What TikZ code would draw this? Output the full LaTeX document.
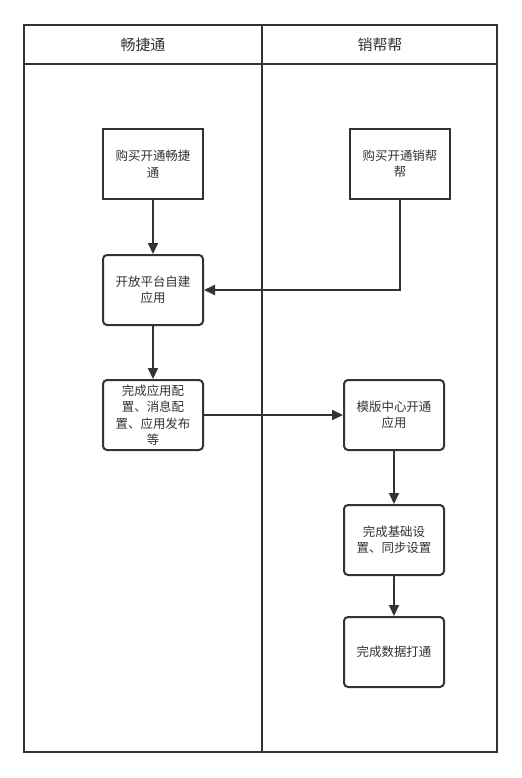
\documentclass[tikz,border=0pt]{standalone}
\usepackage{fontspec}
\setmainfont{Noto Sans CJK SC}
\usepackage{tikz}
\usetikzlibrary{arrows.meta}
\definecolor{ink}{HTML}{333333}

\tikzset{
  task/.style={draw=ink,line width=2bp,minimum width=100bp,minimum height=70bp,inner sep=2bp,align=center,fill=white},
  roundtask/.style={task,rounded corners=4bp},
  flow/.style={draw=ink,line width=2bp,-{Triangle[length=11bp,width=10bp]}}
}

\begin{document}
\begin{tikzpicture}[font=\fontsize{12.5}{16.5}\selectfont,text=ink]
\useasboundingbox (0bp,0bp) rectangle (522bp,-778bp);
% swimlanes
\draw [draw=ink,line width=2bp] (24bp,-25bp) rectangle (497bp,-752bp);
\draw [draw=ink,line width=2bp] (24bp,-64bp) -- (497bp,-64bp);
\draw [draw=ink,line width=2.5bp] (262bp,-25bp) -- (262bp,-752bp);
\node (laneCJT) at (143bp,-45bp)[font=\fontsize{15}{18}\selectfont] {畅捷通};
\node (laneXBB) at (380bp,-45bp)[font=\fontsize{15}{18}\selectfont] {销帮帮};
% steps
\node (buyCJT) at (153bp,-164bp)[task] {购买开通畅捷\\通};
\node (buyXBB) at (400bp,-164bp)[task] {购买开通销帮\\帮};
\node (openApp) at (153bp,-290bp)[roundtask] {开放平台自建\\应用};
\node (config) at (153bp,-415bp)[roundtask] {完成应用配\\置、消息配\\置、应用发布\\等};
\node (tplOpen) at (394bp,-415bp)[roundtask] {模版中心开通\\应用};
\node (baseSet) at (394bp,-540bp)[roundtask] {完成基础设\\置、同步设置};
\node (dataSync) at (394bp,-652bp)[roundtask] {完成数据打通};
% connectors
\draw [flow] (buyCJT) -- (openApp);
\draw [flow] (buyXBB.south) |- (openApp.east);
\draw [flow] (openApp) -- (config);
\draw [flow] (config) -- (tplOpen);
\draw [flow] (tplOpen) -- (baseSet);
\draw [flow] (baseSet) -- (dataSync);
\end{tikzpicture}
\end{document}
